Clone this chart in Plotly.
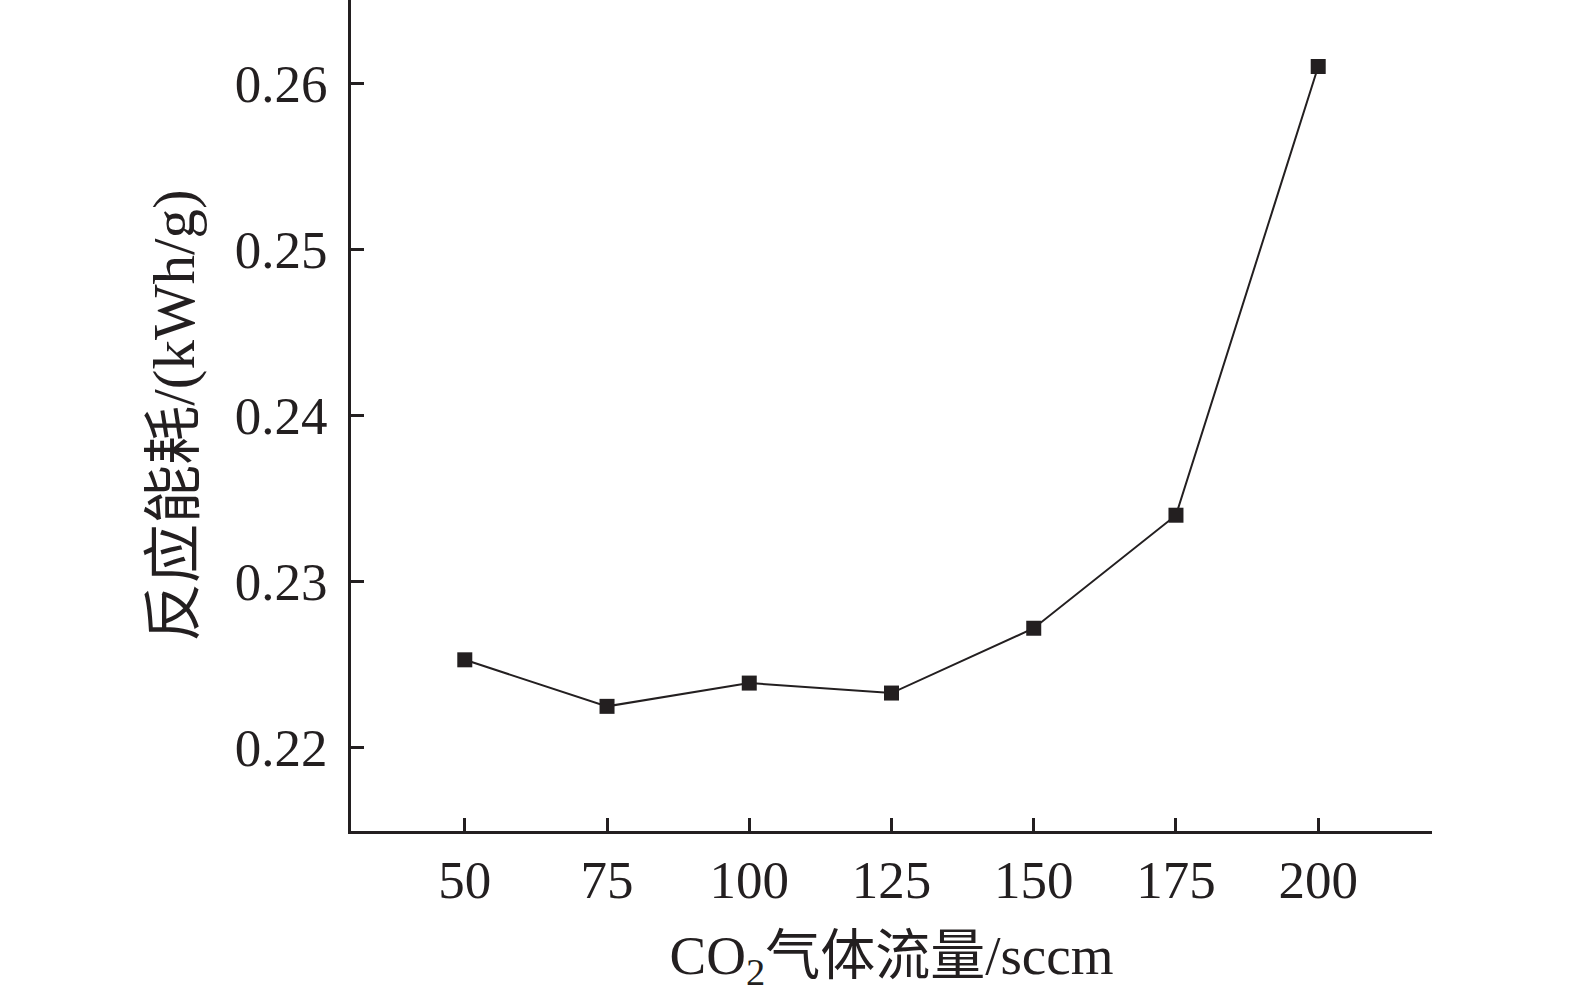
import plotly.graph_objects as go

# CO2 flow rate (sccm) vs reaction energy consumption (kWh/g)
flow = [50, 75, 100, 125, 150, 175, 200]
energy = [0.2253, 0.2225, 0.2239, 0.2233, 0.2272, 0.2340, 0.2610]

x_ticks = [50, 75, 100, 125, 150, 175, 200]
y_ticks = [0.22, 0.23, 0.24, 0.25, 0.26]
y_tick_text = ["0.22", "0.23", "0.24", "0.25", "0.26"]

ink = "#231f20"
font_family = "Liberation Serif, Noto Sans CJK SC, serif"

fig = go.Figure()
fig.add_scatter(
    x=flow, y=energy, mode="lines+markers",
    line=dict(color=ink, width=2),
    marker=dict(symbol="square", size=15, color=ink),
    showlegend=False,
)

fig.update_layout(
    width=1575, height=1004,
    margin=dict(l=351, r=143, t=0, b=173),
    paper_bgcolor="white", plot_bgcolor="white",
    font=dict(family=font_family, size=53, color=ink),
)

fig.update_xaxes(
    range=[30, 220], tickvals=x_ticks,
    showline=True, linecolor=ink, linewidth=3,
    ticks="inside", ticklen=13, tickwidth=3, tickcolor=ink,
    showgrid=False, zeroline=False,
    title=dict(text="CO<sub>2</sub>气体流量/sccm", font=dict(size=55), standoff=28),
)
fig.update_yaxes(
    range=[0.215, 0.265], tickvals=y_ticks, ticktext=y_tick_text,
    showline=True, linecolor=ink, linewidth=3,
    ticks="inside", ticklen=13, tickwidth=3, tickcolor=ink,
    showgrid=False, zeroline=False, ticklabelstandoff=10,
    title=dict(text="反应能耗/(kWh/g)", font=dict(size=59), standoff=22),
)

# drop the page's default body margin so the figure sits at the window origin
fig.write_html("out.html", config={"displayModeBar": False},
               post_script="document.body.style.margin='0';")
